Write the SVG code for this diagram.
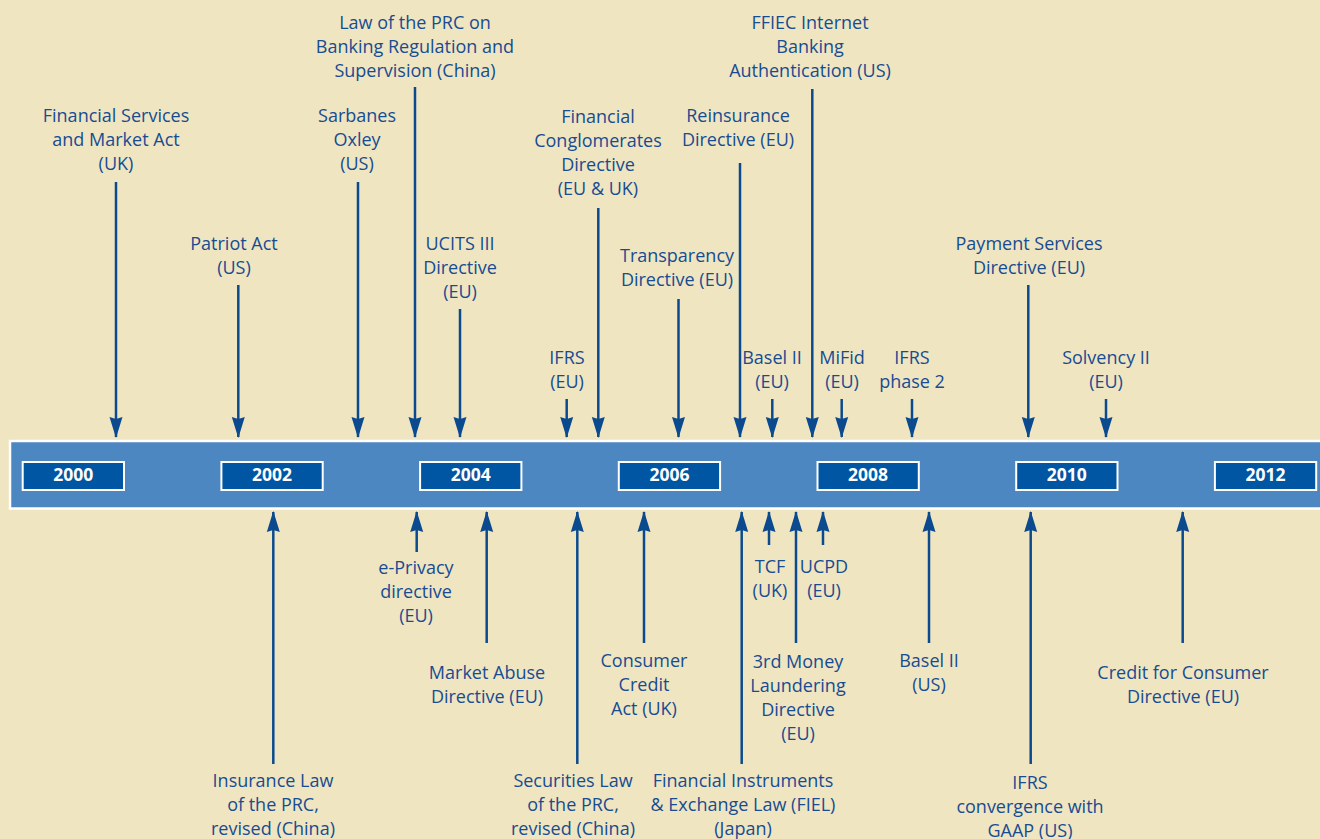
<svg xmlns="http://www.w3.org/2000/svg" width="1320" height="839" viewBox="0 0 1320 839">
<style>
.lbl{font-family:"Open Sans","Noto Sans","Liberation Sans",sans-serif;font-size:18px;fill:#174C92;text-anchor:middle}
.yr{font-family:"Open Sans","Noto Sans","Liberation Sans",sans-serif;font-size:17.5px;font-weight:bold;fill:#ffffff;text-anchor:middle}
.ybox{fill:#0056A2;stroke:#ffffff;stroke-width:2}
.arr{stroke:#0B4A8E;stroke-width:2.5;fill:none;marker-end:url(#ah)}
</style>
<defs>
<marker id="ah" markerUnits="userSpaceOnUse" markerWidth="21" markerHeight="14" viewBox="0 -7 21 14" refX="20" refY="0" orient="auto">
<path d="M0,-6.5 L21,0 L0,6.5 L2,0 z" fill="#0B4A8E"/>
</marker>
</defs>
<rect x="0" y="0" width="1320" height="839" fill="#EFE5C1"/>

<g id="timeline">
<rect x="10" y="441" width="1320" height="67.5" fill="#4C87C1" stroke="#ffffff" stroke-width="2.5"/>
<g id="y2000"><rect class="ybox" x="22.7" y="462" width="101.3" height="28"/><text class="yr" x="73.3" y="481">2000</text></g>
<g id="y2002"><rect class="ybox" x="221.4" y="462" width="101.3" height="28"/><text class="yr" x="272" y="481">2002</text></g>
<g id="y2004"><rect class="ybox" x="420.1" y="462" width="101.3" height="28"/><text class="yr" x="470.7" y="481">2004</text></g>
<g id="y2006"><rect class="ybox" x="618.8" y="462" width="101.3" height="28"/><text class="yr" x="669.4" y="481">2006</text></g>
<g id="y2008"><rect class="ybox" x="817.5" y="462" width="101.3" height="28"/><text class="yr" x="868.1" y="481">2008</text></g>
<g id="y2010"><rect class="ybox" x="1016.2" y="462" width="101.3" height="28"/><text class="yr" x="1066.8" y="481">2010</text></g>
<g id="y2012"><rect class="ybox" x="1214.9" y="462" width="101.3" height="28"/><text class="yr" x="1265.5" y="481">2012</text></g>
</g>

<g id="connectors">
<line class="arr" x1="116" y1="182" x2="116" y2="437"/>
<line class="arr" x1="238.3" y1="285" x2="238.3" y2="437"/>
<line class="arr" x1="358" y1="182" x2="358" y2="437"/>
<line class="arr" x1="415" y1="87" x2="415" y2="437"/>
<line class="arr" x1="460" y1="309" x2="460" y2="437"/>
<line class="arr" x1="566.7" y1="399" x2="566.7" y2="437"/>
<line class="arr" x1="598.3" y1="208" x2="598.3" y2="437"/>
<line class="arr" x1="678.5" y1="299" x2="678.5" y2="437"/>
<line class="arr" x1="740" y1="163" x2="740" y2="437"/>
<line class="arr" x1="772.3" y1="399" x2="772.3" y2="437"/>
<line class="arr" x1="812.3" y1="89" x2="812.3" y2="437"/>
<line class="arr" x1="841.7" y1="399" x2="841.7" y2="437"/>
<line class="arr" x1="912" y1="399" x2="912" y2="437"/>
<line class="arr" x1="1028.3" y1="285" x2="1028.3" y2="437"/>
<line class="arr" x1="1106" y1="399" x2="1106" y2="437"/>

<line class="arr" x1="273.3" y1="764" x2="273.3" y2="512"/>
<line class="arr" x1="416.7" y1="552" x2="416.7" y2="512"/>
<line class="arr" x1="486.7" y1="643" x2="486.7" y2="512"/>
<line class="arr" x1="577.3" y1="764" x2="577.3" y2="512"/>
<line class="arr" x1="644" y1="643" x2="644" y2="512"/>
<line class="arr" x1="741.7" y1="764" x2="741.7" y2="512"/>
<line class="arr" x1="769" y1="545" x2="769" y2="512"/>
<line class="arr" x1="796" y1="643" x2="796" y2="512"/>
<line class="arr" x1="823" y1="545" x2="823" y2="512"/>
<line class="arr" x1="929" y1="643" x2="929" y2="512"/>
<line class="arr" x1="1030.7" y1="764" x2="1030.7" y2="512"/>
<line class="arr" x1="1182.7" y1="643" x2="1182.7" y2="512"/>
</g>

<g id="fsma"><text class="lbl" x="116" y="121.5">Financial Services</text><text class="lbl" x="116" y="145.5">and Market Act</text><text class="lbl" x="116" y="169.5">(UK)</text></g>
<g id="patriot"><text class="lbl" x="234" y="249.5">Patriot Act</text><text class="lbl" x="234" y="273.5">(US)</text></g>
<g id="sox"><text class="lbl" x="357" y="121.5">Sarbanes</text><text class="lbl" x="357" y="145.5">Oxley</text><text class="lbl" x="357" y="169.5">(US)</text></g>
<g id="prc-banking"><text class="lbl" x="415" y="29">Law of the PRC on</text><text class="lbl" x="415" y="53">Banking Regulation and</text><text class="lbl" x="415" y="77">Supervision (China)</text></g>
<g id="ucits"><text class="lbl" x="460" y="249.5">UCITS III</text><text class="lbl" x="460" y="273.5">Directive</text><text class="lbl" x="460" y="297.5">(EU)</text></g>
<g id="ifrs-eu"><text class="lbl" x="567" y="363.5">IFRS</text><text class="lbl" x="567" y="387.5">(EU)</text></g>
<g id="fincong"><text class="lbl" x="598" y="122.5">Financial</text><text class="lbl" x="598" y="146.5">Conglomerates</text><text class="lbl" x="598" y="170.5">Directive</text><text class="lbl" x="598" y="194.5">(EU &amp; UK)</text></g>
<g id="transparency"><text class="lbl" x="677" y="261.5">Transparency</text><text class="lbl" x="677" y="285.5">Directive (EU)</text></g>
<g id="reinsurance"><text class="lbl" x="738" y="121.5">Reinsurance</text><text class="lbl" x="738" y="145.5">Directive (EU)</text></g>
<g id="basel-eu"><text class="lbl" x="772" y="363.5">Basel II</text><text class="lbl" x="772" y="387.5">(EU)</text></g>
<g id="ffiec"><text class="lbl" x="810" y="29">FFIEC Internet</text><text class="lbl" x="810" y="53">Banking</text><text class="lbl" x="810" y="77">Authentication (US)</text></g>
<g id="mifid"><text class="lbl" x="842" y="363.5">MiFid</text><text class="lbl" x="842" y="387.5">(EU)</text></g>
<g id="ifrs2"><text class="lbl" x="912" y="363.5">IFRS</text><text class="lbl" x="912" y="387.5">phase 2</text></g>
<g id="psd"><text class="lbl" x="1029" y="249.5">Payment Services</text><text class="lbl" x="1029" y="273.5">Directive (EU)</text></g>
<g id="solvency"><text class="lbl" x="1106" y="363.5">Solvency II</text><text class="lbl" x="1106" y="387.5">(EU)</text></g>

<g id="insurance-prc"><text class="lbl" x="273" y="787">Insurance Law</text><text class="lbl" x="273" y="811">of the PRC,</text><text class="lbl" x="273" y="835">revised (China)</text></g>
<g id="eprivacy"><text class="lbl" x="416" y="574">e-Privacy</text><text class="lbl" x="416" y="598">directive</text><text class="lbl" x="416" y="622">(EU)</text></g>
<g id="mad"><text class="lbl" x="487" y="679">Market Abuse</text><text class="lbl" x="487" y="703">Directive (EU)</text></g>
<g id="securities-prc"><text class="lbl" x="573" y="787">Securities Law</text><text class="lbl" x="573" y="811">of the PRC,</text><text class="lbl" x="573" y="835">revised (China)</text></g>
<g id="cca"><text class="lbl" x="644" y="667">Consumer</text><text class="lbl" x="644" y="691">Credit</text><text class="lbl" x="644" y="715">Act (UK)</text></g>
<g id="fiel"><text class="lbl" x="743" y="787">Financial Instruments</text><text class="lbl" x="743" y="811">&amp; Exchange Law (FIEL)</text><text class="lbl" x="743" y="835">(Japan)</text></g>
<g id="tcf"><text class="lbl" x="770" y="573">TCF</text><text class="lbl" x="770" y="597">(UK)</text></g>
<g id="mld3"><text class="lbl" x="798" y="668">3rd Money</text><text class="lbl" x="798" y="692">Laundering</text><text class="lbl" x="798" y="716">Directive</text><text class="lbl" x="798" y="740">(EU)</text></g>
<g id="ucpd"><text class="lbl" x="824" y="573">UCPD</text><text class="lbl" x="824" y="597">(EU)</text></g>
<g id="basel-us"><text class="lbl" x="929" y="667">Basel II</text><text class="lbl" x="929" y="691">(US)</text></g>
<g id="ifrs-gaap"><text class="lbl" x="1030" y="789">IFRS</text><text class="lbl" x="1030" y="813">convergence with</text><text class="lbl" x="1030" y="837">GAAP (US)</text></g>
<g id="ccd"><text class="lbl" x="1183" y="679">Credit for Consumer</text><text class="lbl" x="1183" y="703">Directive (EU)</text></g>
</svg>
